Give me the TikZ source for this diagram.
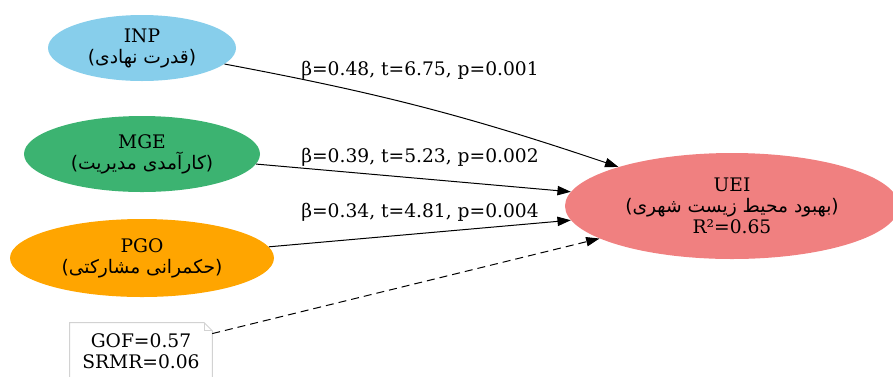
\documentclass[tikz,border=0pt]{standalone}
\usepackage{fontspec}
\setmainfont{DejaVu Serif}
\newfontfamily\fafont[Script=Arabic]{DejaVu Sans}
\newfontfamily\brfont{DejaVu Sans}
\TeXXeTstate=1
\usetikzlibrary{arrows.meta,shapes.geometric}
\usepackage{xcolor}

\definecolor{inpblue}{HTML}{87CEEB}
\definecolor{mgegreen}{HTML}{3CB371}
\definecolor{pgoorange}{HTML}{FFA500}
\definecolor{ueired}{HTML}{F08080}

% persian subtitle in brackets, right to left
\newcommand{\fa}[1]{{\brfont(}{\fafont\beginR #1\endR}{\brfont)}}

\begin{document}
\begin{tikzpicture}[x=0.75pt,y=-0.75pt,
  var/.style={ellipse,inner sep=0pt,align=center,
              font=\fontsize{14}{15.75}\selectfont},
  notebox/.style={rectangle,inner sep=0pt,minimum width=106.5pt,minimum height=42pt,
                  align=center,font=\fontsize{14}{15.75}\selectfont},
  lbl/.style={inner sep=0pt,font=\fontsize{14}{16}\selectfont},
  arr/.style={-{Triangle[length=10pt,width=7pt]},line width=0.75pt},
  darr/.style={arr,dash pattern=on 6pt off 3.75pt}
]
\useasboundingbox (0,0) rectangle (893,376);

% Exogenous constructs
\node[var,fill=inpblue,minimum width=141pt,minimum height=49.5pt] (inp) at (142,48)
  {INP\\\fa{قدرت نهادی}};
\node[var,fill=mgegreen,minimum width=177pt,minimum height=57pt] (mge) at (142,154)
  {MGE\\\fa{کارآمدی مدیریت}};
\node[var,fill=pgoorange,minimum width=198pt,minimum height=58.5pt] (pgo) at (142,258)
  {PGO\\\fa{حکمرانی مشارکتی}};

% Endogenous construct
\node[var,fill=ueired,minimum width=250.5pt,minimum height=79.5pt] (uei) at (732,206)
  {UEI\\\fa{بهبود محیط زیست شهری}\\R²=0.65};

% Model fit note with folded corner
\node[notebox] (fit) at (141,351) {GOF=0.57\\SRMR=0.06};
\draw[gray!35,line width=0.75pt]
  (fit.south west) -- (fit.north west) -- ([xshift=-6pt]fit.north east)
  -- ([yshift=-6pt]fit.north east) -- (fit.south east);
\draw[gray!35,line width=0.75pt]
  ([xshift=-6pt]fit.north east) |- ([yshift=-6pt]fit.north east);

% Paths
\draw[arr] (inp) to[bend left=4] (uei);
\draw[arr] (mge) -- (uei);
\draw[arr] (pgo) -- (uei);
\draw[darr] (fit) -- (uei);

% Path coefficients
\node[lbl] (c1) at (420,70) {β=0.48, t=6.75, p=0.001};
\node[lbl] (c2) at (420,157) {β=0.39, t=5.23, p=0.002};
\node[lbl] (c3) at (420,212) {β=0.34, t=4.81, p=0.004};

\end{tikzpicture}
\end{document}
